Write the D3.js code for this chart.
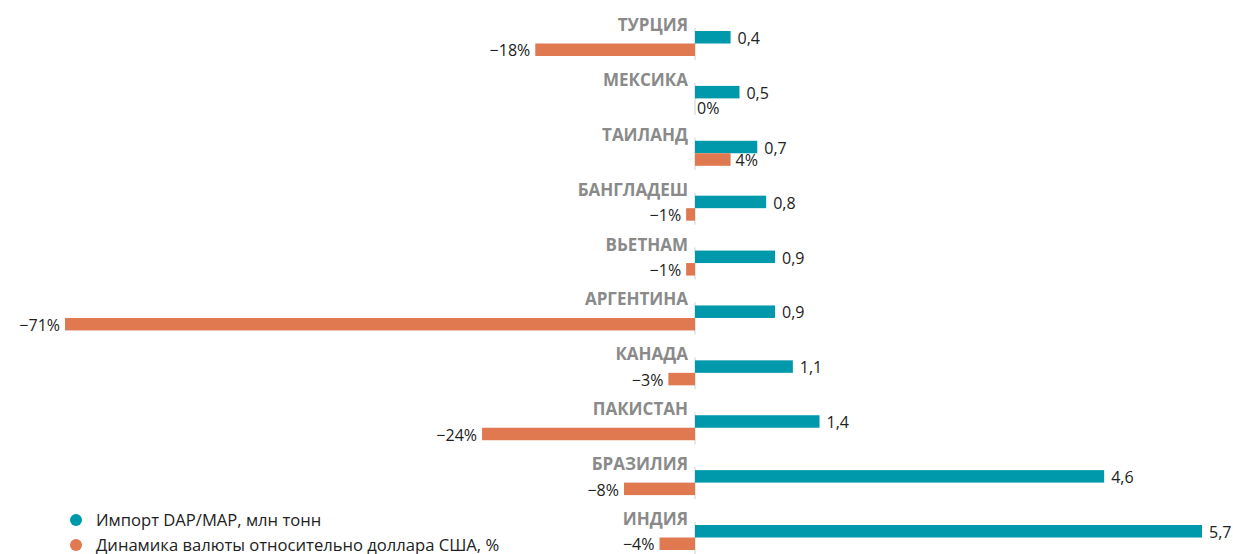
<!DOCTYPE html>
<html><head><meta charset="utf-8">
<script src="https://cdn.jsdelivr.net/npm/d3@7"></script>
<style>
body{margin:0;background:#fff;}
svg{display:block;font-family:"Open Sans",sans-serif;}
</style></head>
<body>
<svg id="c" width="1233" height="554"></svg>
<script>
const countries = ["ТУРЦИЯ","МЕКСИКА","ТАИЛАНД","БАНГЛАДЕШ","ВЬЕТНАМ","АРГЕНТИНА","КАНАДА","ПАКИСТАН","БРАЗИЛИЯ","ИНДИЯ"];
const imports = [0.4,0.5,0.7,0.8,0.9,0.9,1.1,1.4,4.6,5.7];
const currency = [-18,0,4,-1,-1,-71,-3,-24,-8,-4];
const legendLabels = ["Импорт DAP/MAP, млн тонн","Динамика валюты относительно доллара США, %"];
const colors = ["#0098ab","#e07850"];

const svg = d3.select("#c");
const x0 = 695;
const xT = d3.scaleLinear().domain([0,5.7]).range([x0,1202]);
const xO = d3.scaleLinear().domain([-71,0]).range([65,x0]);
const y = d3.scaleBand().domain(countries).range([31,525+54.9]).paddingInner(0).paddingOuter(0);
const barH = 12.5;
const fmt = v => String(v).replace(".",",");
const fmtP = v => (v<0 ? "\u2212"+Math.abs(v) : String(v)) + "%";

const rows = svg.selectAll("g.row").data(countries).join("g").attr("class","row")
  .attr("transform", d => `translate(0,${y(d)})`);

rows.append("line").attr("x1",x0).attr("x2",x0).attr("y1",-3).attr("y2",2*barH+4)
  .attr("stroke","#cfcfcf").attr("stroke-width",1);

rows.append("text").attr("x",x0-7).attr("y",0).attr("text-anchor","end")
  .attr("font-weight","700").attr("font-size",17).attr("fill","#8a8a8a").text(d=>d);

rows.append("rect").attr("x",x0).attr("y",0).attr("height",barH)
  .attr("width",(d,i)=>xT(imports[i])-x0).attr("fill",colors[0]);

rows.append("rect").attr("y",barH).attr("height",barH)
  .attr("x",(d,i)=>Math.min(xO(Math.min(currency[i],0)), x0))
  .attr("width",(d,i)=> currency[i]<0 ? x0-xO(currency[i]) : xT(currency[i]/10)-x0)
  .attr("fill",colors[1]);

rows.append("text").attr("x",(d,i)=>xT(imports[i])+7).attr("y",barH/2).attr("dy","0.42em")
  .attr("font-size",16).attr("fill","#222").text((d,i)=>fmt(imports[i]));

rows.append("text")
  .attr("x",(d,i)=> currency[i]<0 ? xO(currency[i])-5 : xT(currency[i]/10)+ (currency[i]===0?2:5))
  .attr("text-anchor",(d,i)=> currency[i]<0 ? "end":"start")
  .attr("y",barH*1.5).attr("dy",(d,i)=> currency[i]===0?"0.6em":"0.42em")
  .attr("font-size",16).attr("fill","#222").text((d,i)=>fmtP(currency[i]));

const lg = svg.selectAll("g.lg").data(legendLabels).join("g").attr("class","lg")
  .attr("transform",(d,i)=>`translate(76,${520+i*25})`);
lg.append("circle").attr("r",6).attr("fill",(d,i)=>colors[i]);
lg.append("text").attr("x",20).attr("dy","0.36em").attr("font-size",16.6).attr("fill","#222").text(d=>d);
</script>
</body></html>
